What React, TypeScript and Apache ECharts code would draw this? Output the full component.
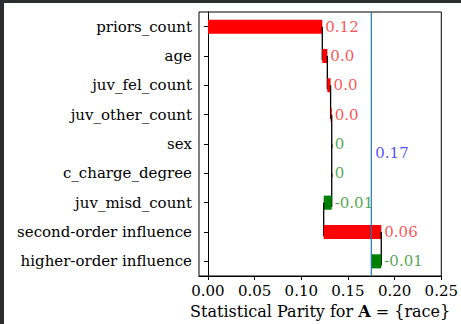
import React, { useEffect, useRef } from 'react';
import * as echarts from 'echarts';

const categories = [
  'priors_count',
  'age',
  'juv_fel_count',
  'juv_other_count',
  'sex',
  'c_charge_degree',
  'juv_misd_count',
  'second-order influence',
  'higher-order influence',
];
const deltas = [0.1225, 0.0054, 0.0035, 0.0012, 0, 0, -0.0086, 0.0617, -0.0107];
const valueLabels = ['0.12', '0.0', '0.0', '0.0', '0', '0', '-0.01', '0.06', '-0.01'];
const xTicks = [0, 0.05, 0.1, 0.15, 0.2, 0.25];
const xMin = -0.0096;
const xMax = 0.25;
const totalLabel = '0.17';

const FONT = 'DejaVu Serif';
const FS = 15;

export default function App() {
  const ref = useRef<HTMLDivElement>(null);
  useEffect(() => {
    const chart = echarts.init(ref.current!, null, { renderer: 'svg' });
    let cum = 0;
    const barData = deltas.map((d, i) => {
      const s = cum;
      cum += d;
      return [s, cum, i, d];
    });
    const total = cum;

    const option: any = {
      animation: false,
      backgroundColor: '#fff',
      graphic: [
        { type: 'rect', shape: { x: 0, y: 0, width: 461, height: 3 }, style: { fill: '#2b2d31' }, z: 100 },
        { type: 'rect', shape: { x: 0, y: 0, width: 4, height: 324 }, style: { fill: '#2b2d31' }, z: 100 },
      ],
      grid: {
        left: 199,
        top: 12,
        width: 243,
        height: 265,
        show: true,
        borderColor: '#000',
        borderWidth: 1,
        backgroundColor: 'transparent',
      },
      xAxis: {
        type: 'value',
        min: xMin,
        max: xMax,
        axisLine: { show: true, lineStyle: { color: '#000', width: 1 } },
        axisTick: { show: true, customValues: xTicks, length: 4, lineStyle: { color: '#000' } },
        axisLabel: {
          customValues: xTicks,
          formatter: (v: number) => v.toFixed(2),
          color: '#000',
          fontFamily: FONT,
          fontSize: FS,
          margin: 7,
        },
        splitLine: { show: false },
        name: 'Statistical Parity for {b|A} = {race}',
        nameLocation: 'middle',
        nameGap: 27,
        nameTextStyle: {
          color: '#000',
          fontFamily: FONT,
          fontSize: 16,
          rich: { b: { fontWeight: 'bold', fontFamily: FONT, fontSize: 16, color: '#000' } },
        },
      },
      yAxis: {
        type: 'category',
        data: categories,
        inverse: true,
        axisLine: { show: true, lineStyle: { color: '#000', width: 1 } },
        axisTick: { show: true, alignWithLabel: true, length: 4, lineStyle: { color: '#000' } },
        axisLabel: { color: '#000', fontFamily: FONT, fontSize: FS, margin: 7 },
        splitLine: { show: false },
      },
      series: [
        {
          type: 'custom',
          encode: { x: [0, 1], y: 2 },
          data: barData,
          z: 2,
          renderItem: (params: any, api: any) => {
            const s = api.value(0);
            const e = api.value(1);
            const idx = api.value(2);
            const d = api.value(3);
            const p0 = api.coord([s, idx]);
            const p1 = api.coord([e, idx]);
            const band = api.size([0, 1])[1];
            const h = band * 0.48;
            const pos = d > 0;
            const children: any[] = [
              {
                type: 'rect',
                shape: {
                  x: Math.min(p0[0], p1[0]),
                  y: p0[1] - h / 2,
                  width: Math.abs(p1[0] - p0[0]),
                  height: h,
                },
                style: { fill: pos ? '#ff0000' : '#008000' },
              },
            ];
            if (idx < categories.length - 1) {
              const pn = api.coord([e, idx + 1]);
              children.push({
                type: 'line',
                shape: { x1: p1[0], y1: p1[1], x2: p1[0], y2: pn[1] + h * 0.3 },
                style: { stroke: '#000', lineWidth: 1.3 },
              });
            }
            children.push({
              type: 'text',
              x: Math.max(p0[0], p1[0]) + 3,
              y: p0[1],
              style: {
                text: valueLabels[idx],
                fill: pos ? 'rgba(255,0,0,0.7)' : 'rgba(0,128,0,0.7)',
                fontFamily: FONT,
                fontSize: FS,
                align: 'left',
                verticalAlign: 'middle',
              },
            });
            return { type: 'group', children };
          },
        },
        {
          type: 'custom',
          encode: { x: 0, y: 1 },
          data: [[total, 4]],
          z: 3,
          renderItem: (params: any, api: any) => {
            const p = api.coord([api.value(0), api.value(1)]);
            const band = api.size([0, 1])[1];
            const cs = params.coordSys;
            return {
              type: 'group',
              children: [
                {
                  type: 'line',
                  shape: { x1: p[0], y1: cs.y, x2: p[0], y2: cs.y + cs.height },
                  style: { stroke: '#1f77b4', lineWidth: 1.2 },
                },
                {
                  type: 'text',
                  x: p[0] + 4,
                  y: p[1] + band * 0.3,
                  style: {
                    text: totalLabel,
                    fill: 'rgba(0,0,255,0.7)',
                    fontFamily: FONT,
                    fontSize: FS,
                    align: 'left',
                    verticalAlign: 'middle',
                  },
                },
              ],
            };
          },
        },
      ],
    };
    chart.setOption(option);
    return () => chart.dispose();
  }, []);
  return <div ref={ref} style={{ position: 'fixed', left: 0, top: 0, width: 461, height: 324 }} />;
}
